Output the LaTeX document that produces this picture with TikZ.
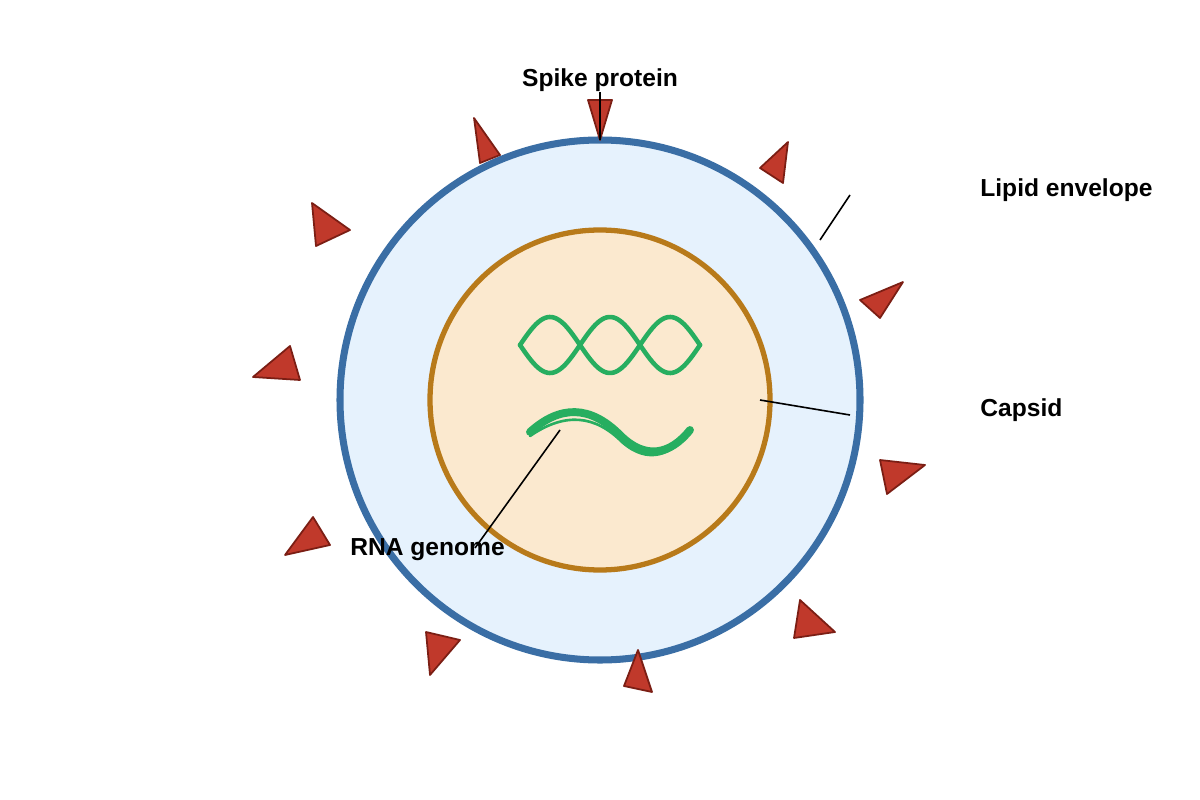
\documentclass[tikz,border=0pt]{standalone}
\usepackage{fontspec}
\setmainfont{Liberation Sans}
\definecolor{envblue}{HTML}{3A6EA5}
\definecolor{envfill}{HTML}{E6F2FD}
\definecolor{capsbrown}{HTML}{B87A1A}
\definecolor{capsfill}{HTML}{FBE9CF}
\definecolor{spikered}{HTML}{C0392B}
\definecolor{spikeedge}{HTML}{7B1E14}
\definecolor{rnagreen}{HTML}{27AE60}
\tikzset{
  spike/.style={fill=spikered,draw=spikeedge,line width=1pt,line join=round},
  lbl/.style={font=\bfseries\fontsize{14}{16}\selectfont,inner sep=0pt},
  lead/.style={black,line width=0.9pt},
  rna/.style={rnagreen,line width=3.2pt,line cap=round}
}
\begin{document}
\begin{tikzpicture}[x=0.02cm,y=-0.02cm]
                \useasboundingbox (0,0) rectangle (1200,800);
                % membranes
                \draw[envblue,fill=envfill,line width=4pt] (600,400) circle (260);
                \draw[capsbrown,fill=capsfill,line width=3pt] (600,400) circle (170);
                %===========================================
                % spike proteins
                \foreach \a/\b/\c in {
                    {588,100}/{612,100}/{600,140},
                    {474,118}/{500,155}/{480,163},
                    {312,203}/{350,230}/{316,246},
                    {253,377}/{290,346}/{300,380},
                    {285,555}/{313,517}/{330,545},
                    {426,632}/{460,640}/{430,675},
                    {624,686}/{638,650}/{652,692},
                    {794,638}/{800,600}/{835,632},
                    {880,460}/{925,465}/{887,494},
                    {860,300}/{903,282}/{880,318},
                    {760,168}/{788,142}/{783,183}}
                    \draw[spike] (\a)--(\b)--(\c)--cycle;
                %===========================================
                % RNA
                \draw[rna,line width=2.6pt,samples=80] plot[domain=520:700] (\x,{345-28*sin(3*(\x-520))});
                \draw[rna,line width=2.6pt,samples=80] plot[domain=520:700] (\x,{345+28*sin(3*(\x-520))});
                \draw[rna,line width=4.5pt] (530,432) .. controls (560,405) and (590,405) .. (620,435)
                    .. controls (645,460) and (670,455) .. (690,430);
                \draw[rna,line width=1.5pt] (530,436) .. controls (565,412) and (595,415) .. (622,442)
                    .. controls (648,465) and (672,455) .. (690,432);
                %===========================================
                % labels
                \node[lbl] (spikeLbl) at (600,80) {Spike protein};
                \node[lbl,anchor=west] (lipidLbl) at (980,190) {Lipid envelope};
                \node[lbl,anchor=west] (capsLbl) at (980,410) {Capsid};
                \node[lbl,anchor=west] (rnaLbl) at (350,550) {RNA genome};
                \coordinate (spikeTip) at (600,140);
                \coordinate (lipidA) at (850,195);
                \coordinate (lipidB) at (820,240);
                \coordinate (capsA) at (760,400);
                \coordinate (capsB) at (850,415);
                \coordinate (rnaA) at (560,430);
                \coordinate (rnaB) at (475,548);
                \draw[lead] (spikeLbl.south)--(spikeTip);
                \draw[lead] (lipidA)--(lipidB);
                \draw[lead] (capsA)--(capsB);
                \draw[lead] (rnaA)--(rnaB);
            \end{tikzpicture}
\end{document}
